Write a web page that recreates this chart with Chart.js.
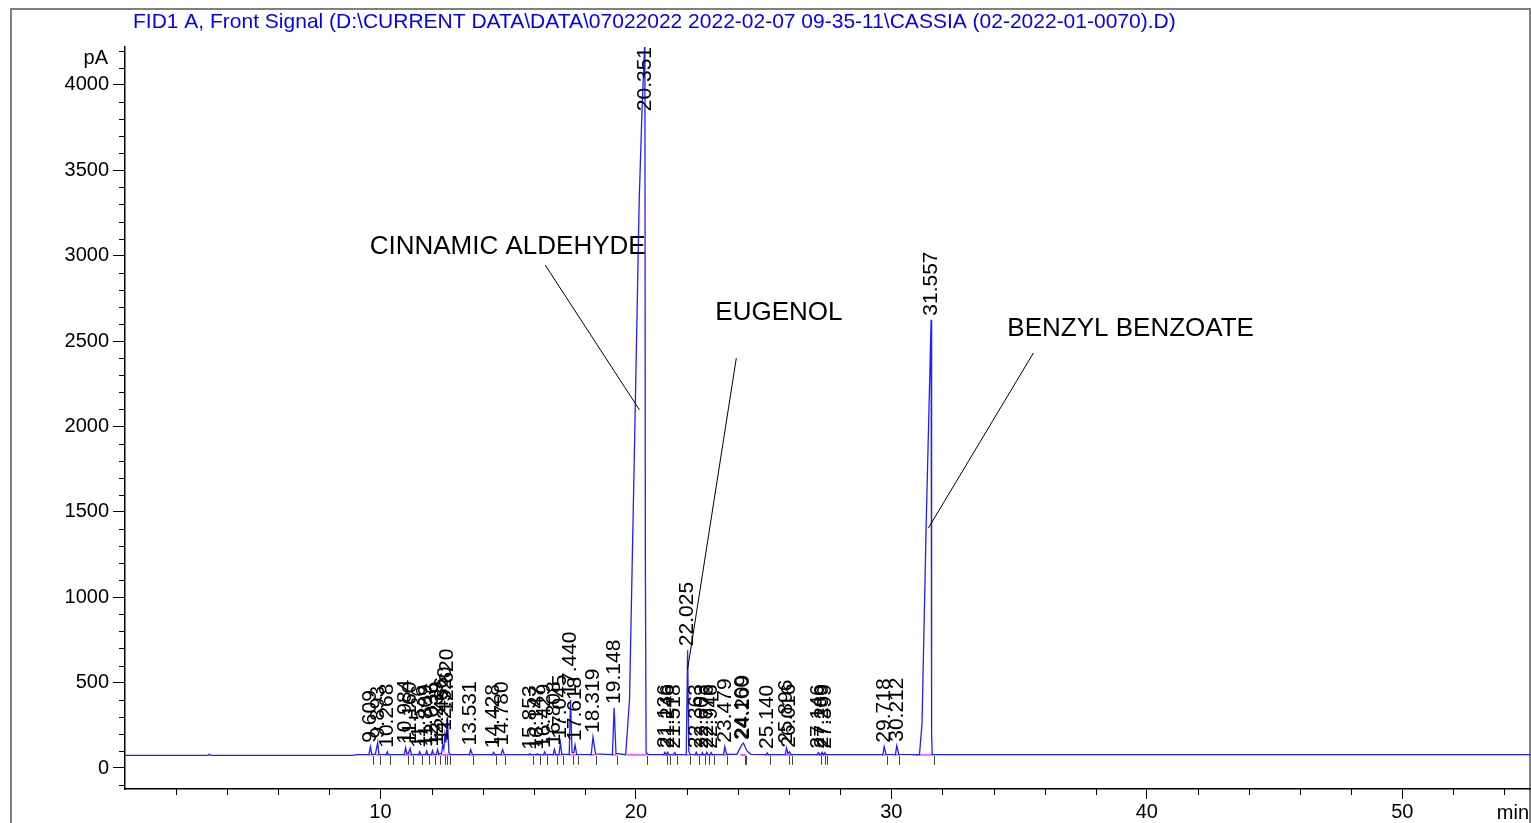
<!DOCTYPE html>
<html>
<head>
<meta charset="utf-8">
<script src="https://cdn.jsdelivr.net/npm/chart.js@4/dist/chart.umd.min.js"></script>
<style>
html, body { margin: 0; padding: 0; background: #fff; }
</style>
</head>
<body>
<canvas id="chart" width="1531" height="823"></canvas>
<script>
const titleText = 'FID1 A, Front Signal (D:\\CURRENT DATA\\DATA\\07022022 2022-02-07 09-35-11\\CASSIA (02-2022-01-0070).D)';

// signal trace (min, pA)
const traceTime = [
    0, 3.25, 3.3, 3.36, 8.9, 9.1, 9.55, 9.609, 9.66, 9.8, 9.893, 9.94, 10.22, 10.268, 10.31,
    10.93, 10.984, 11.03, 11.09, 11.16, 11.21, 11.49, 11.536, 11.58, 11.76, 11.809, 11.85,
    11.99, 12.036, 12.08, 12.19, 12.239, 12.28, 12.39, 12.436, 12.48, 12.52, 12.56, 12.62, 12.68, 12.75,
    13.48, 13.531, 13.6, 14.38, 14.428, 14.48, 14.72, 14.78, 14.85, 15.8, 15.853, 15.9,
    16.1, 16.147, 16.19, 16.38, 16.429, 16.47, 16.76, 16.808, 16.86, 16.99, 17.045, 17.1,
    17.39, 17.44, 17.5, 17.57, 17.618, 17.68, 18.25, 18.319, 18.42, 19.08, 19.148, 19.22,
    19.6, 19.75, 19.98, 20.13, 20.25, 20.351, 20.37, 20.4, 20.5,
    21.09, 21.136, 21.18, 21.2, 21.246, 21.29, 21.47, 21.518, 21.56, 21.97, 22.025, 22.07, 22.12,
    22.32, 22.363, 22.4, 22.56, 22.603, 22.64, 22.73, 22.776, 22.82, 22.9, 22.946, 22.99,
    23.43, 23.479, 23.55, 23.95, 24.16, 24.209, 24.35, 24.5, 25.1, 25.14, 25.18,
    25.85, 25.896, 25.95, 26.016, 26.07, 27.1, 27.146, 27.19, 27.24, 27.289, 27.33, 27.36, 27.399, 27.44,
    29.67, 29.718, 29.79, 30.16, 30.212, 30.29, 31.1, 31.2, 31.36, 31.557, 31.575, 31.6, 31.7, 55
];
const traceSignal = [
    74, 74, 80, 74, 74, 78, 78, 125, 80, 80, 150, 80, 78, 95, 78,
    78, 118, 85, 85, 115, 78, 78, 95, 78, 78, 100, 78,
    78, 102, 80, 80, 108, 82, 85, 135, 110, 195, 150, 300, 90, 78,
    78, 108, 78, 78, 92, 78, 78, 108, 78, 78, 84, 78,
    78, 84, 78, 78, 94, 78, 78, 108, 78, 78, 148, 80,
    80, 400, 90, 90, 135, 80, 78, 182, 82, 78, 352, 85,
    78, 400, 2150, 3330, 3900, 4260, 1200, 90, 78,
    78, 92, 78, 78, 92, 78, 78, 90, 78, 78, 690, 100, 80,
    78, 92, 78, 78, 90, 78, 78, 92, 78, 78, 90, 78,
    78, 125, 80, 80, 140, 146, 100, 80, 78, 88, 78,
    78, 118, 85, 95, 78, 78, 90, 78, 78, 92, 78, 78, 90, 78,
    78, 125, 80, 78, 130, 80, 78, 260, 1410, 2625, 200, 80, 78, 78
];

// integrated peaks: retention times and apex heights
const peakTimes = [
    9.609, 9.893, 10.268, 10.984, 11.160, 11.536, 11.809, 12.036, 12.239, 12.436, 12.520, 12.620,
    13.531, 14.428, 14.780, 15.853, 16.147, 16.429, 16.808, 17.045, 17.440, 17.618, 18.319, 19.148,
    20.351, 21.136, 21.246, 21.518, 22.025, 22.363, 22.603, 22.776, 22.946, 23.479, 24.160, 24.209,
    25.140, 25.896, 26.016, 27.146, 27.289, 27.399, 29.718, 30.212, 31.557
];
const peakApex = [
    125, 150, 95, 118, 115, 95, 100, 102, 108, 135, 195, 300,
    108, 92, 108, 84, 84, 94, 108, 148, 400, 135, 182, 352,
    4260, 92, 92, 90, 690, 92, 90, 92, 90, 125, 140, 146,
    88, 118, 95, 90, 92, 90, 125, 130, 2625
];

const compoundNames = ['CINNAMIC ALDEHYDE', 'EUGENOL', 'BENZYL BENZOATE'];
const compoundTextAt = [[9.58, 3050], [23.11, 2665], [34.54, 2571]];
const compoundLineFrom = [[16.45, 2945], [23.93, 2400], [35.56, 2430]];
const compoundLineTo = [[20.14, 2097], [22.02, 574], [31.45, 1405]];

const yTickValues = [0, 500, 1000, 1500, 2000, 2500, 3000, 3500, 4000];
const xTickValues = [10, 20, 30, 40, 50];
const baselineLevel = 77;

const FONT = "'Liberation Sans', Arial, sans-serif";

const decor = {
    id: 'decor',
    beforeDraw(chart) {
        const c = chart.ctx;
        c.save();
        c.fillStyle = '#fff';
        c.fillRect(0, 0, chart.width, chart.height);
        c.strokeStyle = '#808080';
        c.lineWidth = 2;
        c.beginPath();
        c.moveTo(11, chart.height + 2);
        c.lineTo(11, 9);
        c.lineTo(1530, 9);
        c.lineTo(1530, chart.height + 2);
        c.stroke();
        c.restore();
    },
    beforeDatasetsDraw(chart) {
        const c = chart.ctx, xs = chart.scales.x, ys = chart.scales.y;
        const yb = ys.getPixelForValue(baselineLevel);
        c.save();
        c.strokeStyle = '#ff40ff';
        c.lineWidth = 1.5;
        peakTimes.forEach((t, i) => {
            const w = peakApex[i] > 2000 ? 0.7 : 0.08;
            c.beginPath();
            c.moveTo(xs.getPixelForValue(t - w), yb);
            c.lineTo(xs.getPixelForValue(t + 0.1), yb);
            c.stroke();
        });
        c.restore();
    },
    afterDatasetsDraw(chart) {
        const c = chart.ctx, xs = chart.scales.x, ys = chart.scales.y, area = chart.chartArea;
        c.save();

        // integration marks
        const yb = ys.getPixelForValue(baselineLevel);
        c.strokeStyle = '#444';
        c.lineWidth = 1;
        peakTimes.forEach(t => {
            const px = Math.round(xs.getPixelForValue(t + 0.1)) + 0.5;
            c.beginPath();
            c.moveTo(px, yb + 1);
            c.lineTo(px, yb + 10);
            c.stroke();
        });

        // retention time labels
        c.fillStyle = '#000';
        c.font = '21px ' + FONT;
        c.textAlign = 'left';
        c.textBaseline = 'middle';
        peakTimes.forEach((t, i) => {
            const txt = t.toFixed(3);
            const w = c.measureText(txt).width;
            const px = xs.getPixelForValue(t);
            const bottom = Math.max(ys.getPixelForValue(peakApex[i]) - 4, area.top + w);
            c.save();
            c.translate(px, bottom);
            c.rotate(-Math.PI / 2);
            c.fillText(txt, 0, 0);
            c.restore();
        });

        // compound annotations
        c.font = '26px ' + FONT;
        c.strokeStyle = '#000';
        compoundNames.forEach((name, i) => {
            c.fillText(name, xs.getPixelForValue(compoundTextAt[i][0]), ys.getPixelForValue(compoundTextAt[i][1]));
            c.beginPath();
            c.moveTo(xs.getPixelForValue(compoundLineFrom[i][0]), ys.getPixelForValue(compoundLineFrom[i][1]));
            c.lineTo(xs.getPixelForValue(compoundLineTo[i][0]), ys.getPixelForValue(compoundLineTo[i][1]));
            c.stroke();
        });

        // minor ticks
        c.beginPath();
        for (let v = -100; v <= 4200; v += 100) {
            if (v % 500 === 0) continue;
            const py = Math.round(ys.getPixelForValue(v)) + 0.5;
            c.moveTo(area.left - 6, py);
            c.lineTo(area.left, py);
        }
        for (let m = 2; m < 55; m += 2) {
            if (m % 10 === 0) continue;
            const px = Math.round(xs.getPixelForValue(m)) + 0.5;
            c.moveTo(px, area.bottom);
            c.lineTo(px, area.bottom + 6);
        }
        c.stroke();

        // units and title
        c.font = '20px ' + FONT;
        c.textAlign = 'right';
        c.fillText('pA', 108, 58);
        c.fillText('min', 1529, 813);
        c.textAlign = 'left';
        c.fillStyle = '#0000ff';
        c.font = '21px ' + FONT;
        c.fillText(titleText, 133, 22);
        c.restore();
    }
};

new Chart(document.getElementById('chart'), {
    type: 'line',
    data: {
        datasets: [{
            data: traceTime.map((t, i) => ({ x: t, y: traceSignal[i] })),
            borderColor: '#1f1fff',
            borderWidth: 1.3,
            pointRadius: 0,
            tension: 0,
            fill: false
        }]
    },
    options: {
        responsive: false,
        animation: false,
        events: [],
        layout: { padding: { left: 0, right: 1, top: 47, bottom: 0 } },
        plugins: { legend: { display: false }, tooltip: { enabled: false } },
        scales: {
            x: {
                type: 'linear',
                min: 0,
                max: 55,
                afterBuildTicks: s => { s.ticks = xTickValues.map(v => ({ value: v })); },
                afterFit: s => { s.height = 34; },
                grid: { drawOnChartArea: false, tickLength: 10, tickColor: '#000', tickWidth: 1 },
                border: { display: true, color: '#000', width: 1.5 },
                ticks: { color: '#000', font: { family: FONT, size: 20 }, padding: 1, maxRotation: 0, callback: v => String(v) }
            },
            y: {
                min: -123,
                max: 4222,
                afterBuildTicks: s => { s.ticks = yTickValues.map(v => ({ value: v })); },
                afterFit: s => { s.width = 125; },
                grid: { drawOnChartArea: false, tickLength: 12, tickColor: '#000', tickWidth: 1 },
                border: { display: true, color: '#000', width: 1.5 },
                ticks: { color: '#000', font: { family: FONT, size: 20 }, padding: 4, callback: v => String(v) }
            }
        }
    },
    plugins: [decor]
});
</script>
</body>
</html>
